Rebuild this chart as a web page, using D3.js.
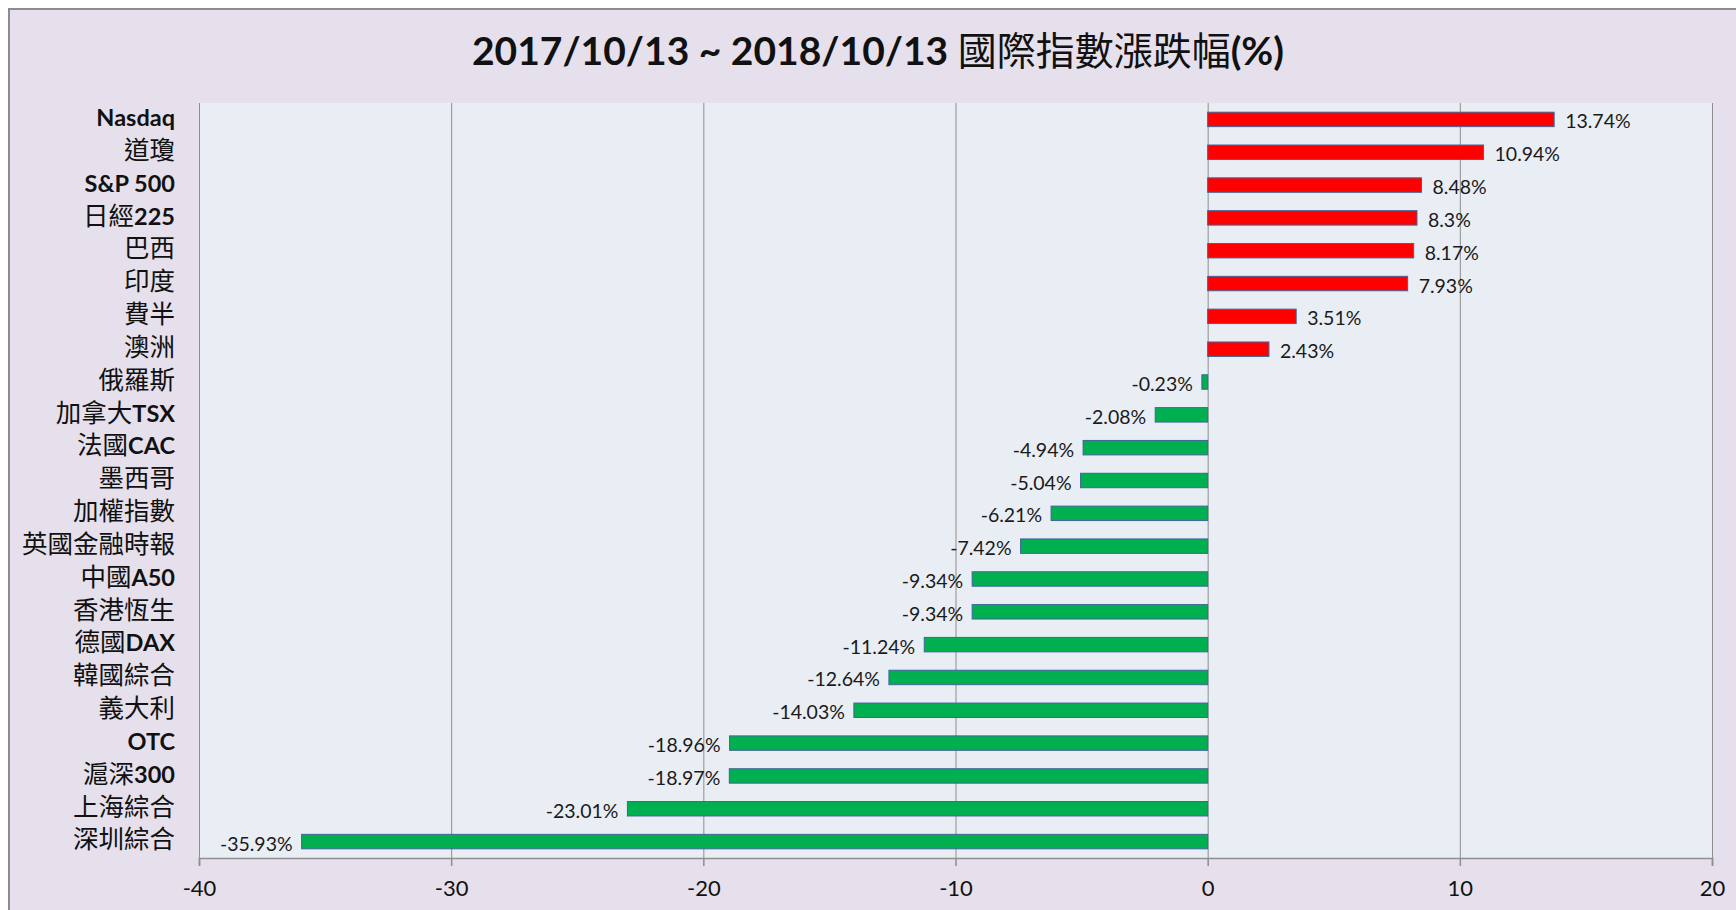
<!DOCTYPE html>
<html>
<head>
<meta charset="utf-8">
<script src="https://cdn.jsdelivr.net/npm/d3@7"></script>
<style>
  html, body { margin: 0; padding: 0; background: #fff; }
  svg { display: block; }
  .latin { font-family: Lato, "Open Sans", "Noto Sans", sans-serif; }
  .cjk { font-family: "Noto Sans CJK TC", "Noto Sans CJK SC", sans-serif; }
</style>
</head>
<body>
<div id="chart"></div>
<script>
// index names, top to bottom
var indexNames = ["Nasdaq", "道瓊", "S&P 500", "日經225", "巴西", "印度", "費半", "澳洲",
    "俄羅斯", "加拿大TSX", "法國CAC", "墨西哥", "加權指數", "英國金融時報", "中國A50",
    "香港恆生", "德國DAX", "韓國綜合", "義大利", "OTC", "滬深300", "上海綜合", "深圳綜合"];
// percent change 2017/10/13 ~ 2018/10/13
var changes = [13.74, 10.94, 8.48, 8.3, 8.17, 7.93, 3.51, 2.43,
    -0.23, -2.08, -4.94, -5.04, -6.21, -7.42, -9.34,
    -9.34, -11.24, -12.64, -14.03, -18.96, -18.97, -23.01, -35.93];
var xTicks = [-40, -30, -20, -10, 0, 10, 20];

var chartTitle = "2017/10/13 ~ 2018/10/13 國際指數漲跌幅(%)";

var W = 1736, H = 910;
var plot = { left: 199, right: 1712, top: 103, bottom: 858 };

var svg = d3.select("#chart").append("svg")
    .attr("width", W)
    .attr("height", H);

// chart area background + frame
svg.append("rect")
    .attr("x", 9).attr("y", 9)
    .attr("width", W + 10).attr("height", H + 10)
    .attr("fill", "#e5e0ec")
    .attr("stroke", "#8c8c8c")
    .attr("stroke-width", 2);

svg.append("rect")
    .attr("x", plot.left).attr("y", plot.top)
    .attr("width", plot.right - plot.left).attr("height", plot.bottom - plot.top)
    .attr("fill", "#e9edf4");

var x = d3.scaleLinear()
    .domain([-40, 20])
    .range([plot.left, plot.right]);

var y = d3.scaleBand()
    .domain(indexNames)
    .range([plot.top, plot.bottom])
    .paddingInner(0.56)
    .paddingOuter(0.28);

// vertical gridlines
svg.append("g")
    .selectAll("line")
    .data(xTicks)
    .enter().append("line")
    .attr("x1", function (d) { return x(d) + 0.5; })
    .attr("x2", function (d) { return x(d) + 0.5; })
    .attr("y1", plot.top)
    .attr("y2", plot.bottom)
    .attr("stroke", "#8e8e8e")
    .attr("stroke-width", 1);

// bottom axis
var xAxis = d3.axisBottom(x)
    .tickValues(xTicks)
    .tickSize(8)
    .tickPadding(14)
    .tickFormat(function (d) { return String(d); });

var gx = svg.append("g")
    .attr("transform", "translate(0," + plot.bottom + ")")
    .call(xAxis);
gx.select(".domain").attr("stroke", "#8e8e8e").attr("stroke-width", 1.5);
gx.selectAll(".tick line").attr("stroke", "#8e8e8e").attr("stroke-width", 1.5);
gx.selectAll(".tick text")
    .attr("class", "latin")
    .attr("font-size", 22)
    .attr("fill", "#111");
gx.attr("font-family", null);

// bars
svg.append("g")
    .selectAll("rect")
    .data(indexNames)
    .enter().append("rect")
    .attr("x", function (d, i) { return x(Math.min(0, changes[i])); })
    .attr("y", function (d) { return y(d); })
    .attr("width", function (d, i) { return Math.abs(x(changes[i]) - x(0)); })
    .attr("height", y.bandwidth())
    .attr("fill", function (d, i) { return changes[i] >= 0 ? "#ff0000" : "#00b050"; })
    .attr("stroke", "#41649c")
    .attr("stroke-width", 1);

// value labels
svg.append("g")
    .selectAll("text")
    .data(indexNames)
    .enter().append("text")
    .attr("class", "latin")
    .attr("x", function (d, i) {
        return changes[i] >= 0 ? x(changes[i]) + 11 : x(changes[i]) - 9;
    })
    .attr("y", function (d) { return y(d) + y.bandwidth() / 2 + 2; })
    .attr("dy", "0.36em")
    .attr("text-anchor", function (d, i) { return changes[i] >= 0 ? "start" : "end"; })
    .attr("font-size", 19.5)
    .attr("fill", "#1a1a1a")
    .text(function (d, i) { return changes[i] + "%"; });

// category labels: latin parts bold, CJK parts regular
var cat = svg.append("g")
    .selectAll("text")
    .data(indexNames)
    .enter().append("text")
    .attr("x", 175)
    .attr("y", function (d) { return y(d) + y.bandwidth() / 2 + 1; })
    .attr("dy", "0.36em")
    .attr("text-anchor", "end")
    .attr("fill", "#111");

cat.each(function (d) {
    var parts = d.match(/[\u3000-\u9fff]+|[^\u3000-\u9fff]+/g);
    var t = d3.select(this);
    parts.forEach(function (p) {
        var cjk = /[\u3000-\u9fff]/.test(p);
        t.append("tspan")
            .attr("class", cjk ? "cjk" : "latin")
            .attr("font-size", cjk ? 25.5 : 23.5)
            .attr("font-weight", cjk ? 400 : 700)
            .text(p);
    });
});

// title
var title = svg.append("text")
    .attr("x", 878)
    .attr("y", 65)
    .attr("text-anchor", "middle")
    .attr("fill", "#111");
chartTitle.match(/[\u3000-\u9fff]+|[^\u3000-\u9fff]+/g).forEach(function (p) {
    var cjk = /[\u3000-\u9fff]/.test(p);
    title.append("tspan")
        .attr("class", cjk ? "cjk" : "latin")
        .attr("font-size", cjk ? 39 : 39)
        .attr("font-weight", cjk ? 400 : 700)
        .text(p);
});
</script>
</body>
</html>
